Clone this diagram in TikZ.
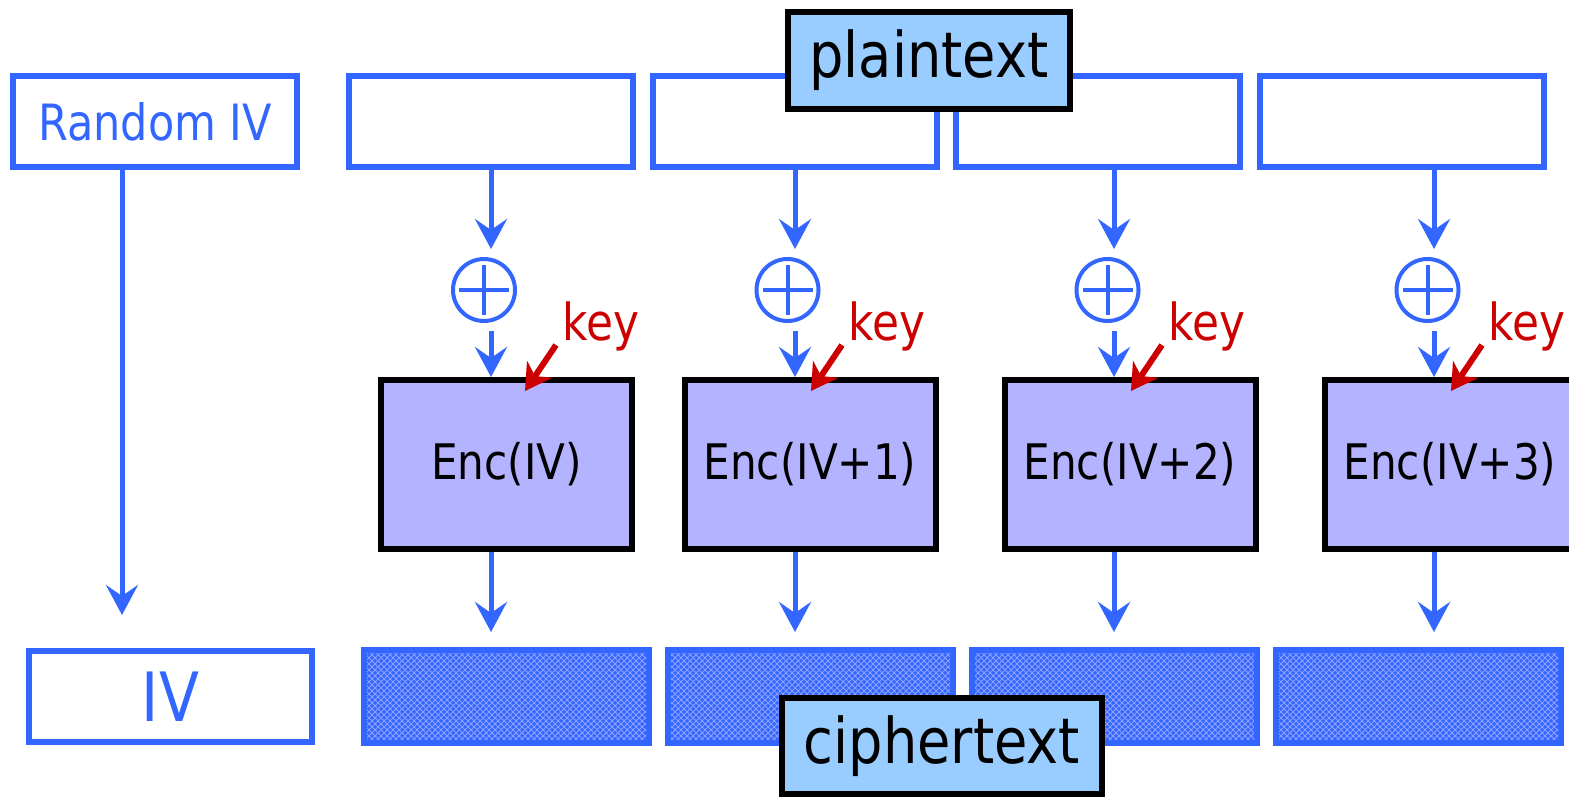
\documentclass[tikz,border=0pt]{standalone}
\usepackage{fontspec}
\setmainfont{DejaVu Sans}[FakeStretch=0.86]
\usetikzlibrary{arrows.meta,patterns}
\definecolor{ivblue}{RGB}{51,102,255}
\definecolor{keyred}{RGB}{204,0,0}
\definecolor{labelfill}{RGB}{153,204,255}
\definecolor{encfill}{RGB}{179,179,255}
\definecolor{dotblue}{RGB}{140,160,255}
\begin{document}
\begin{tikzpicture}[x=0.5pt,y=-0.5pt,
        ptbox/.style={draw=ivblue,line width=3pt,fill=white,minimum width=142pt,minimum height=45.5pt},
        ctbox/.style={draw=ivblue,line width=3pt,preaction={fill=ivblue},pattern=crosshatch,
            pattern color=dotblue,minimum width=142.5pt,minimum height=46.5pt},
        encbox/.style={draw=black,line width=3pt,fill=encfill,minimum width=125.5pt,minimum height=84.5pt,
            font=\fontsize{24.5}{28}\selectfont},
        labelbox/.style={draw=black,line width=3pt,fill=labelfill,inner sep=2pt,
            font=\fontsize{31.5}{36}\selectfont},
        xor/.style={circle,draw=ivblue,line width=2pt,minimum size=31pt,inner sep=0pt,
            path picture={\draw[ivblue,line width=2pt]
                ([xshift=-12.5pt]path picture bounding box.center) -- ([xshift=12.5pt]path picture bounding box.center)
                ([yshift=-12.5pt]path picture bounding box.center) -- ([yshift=12.5pt]path picture bounding box.center);}},
        flow/.style={draw=ivblue,line width=2.5pt,-{Stealth[length=15pt,width=16pt,inset=5.5pt]}},
        keyarr/.style={draw=keyred,line width=3pt,-{Stealth[length=13pt,width=15pt,inset=4pt]}},
        keytext/.style={text=keyred,anchor=base west,inner sep=0pt,font=\fontsize{25.5}{30}\selectfont}]
    \useasboundingbox (0,0) rectangle (1569,799);

    % columns
    \coordinate (ivcol) at (122,0);
    \coordinate (col1) at (491,0);
    \coordinate (col2) at (795,0);
    \coordinate (col3) at (1114,0);
    \coordinate (col4) at (1434,0);

    % top row
    \node[ptbox,text=ivblue,font=\fontsize{25}{30}\selectfont] (rnd) at (155,121.5) {Random IV};
    \node[ptbox] (p1) at (490.5,121.5) {};
    \node[ptbox] (p2) at (794.5,121.5) {};
    \node[ptbox] (p3) at (1097.5,121.5) {};
    \node[ptbox] (p4) at (1401.5,121.5) {};
    \node[labelbox,minimum width=141pt,minimum height=48.5pt] (plain) at (929,60.5) {plaintext};

    % xor
    \node[xor] (x1) at (484,290) {};
    \node[xor] (x2) at (787.5,290) {};
    \node[xor] (x3) at (1107.5,290) {};
    \node[xor] (x4) at (1427.5,290) {};

    % block cipher
    \node[encbox] (e1) at (506.5,464.5) {Enc(IV)};
    \node[encbox] (e2) at (810,464.5) {Enc(IV+1)};
    \node[encbox] (e3) at (1130,464.5) {Enc(IV+2)};
    \node[encbox] (e4) at (1450,464.5) {Enc(IV+3)};

    % bottom row
    \node[ptbox,text=ivblue,font=\fontsize{34}{40}\selectfont,minimum width=141.5pt] (iv) at (170.5,696.5) {IV};
    \node[ctbox] (ct1) at (506.5,696.5) {};
    \node[ctbox] (ct2) at (810.5,696.5) {};
    \node[ctbox] (ct3) at (1114.5,696.5) {};
    \node[ctbox] (ct4) at (1418,696.5) {};
    \node[labelbox,minimum width=160pt,minimum height=48pt] (cipher) at (942,746) {ciphertext};

    % arrows
    \draw[flow,shorten >=16.5pt] (rnd.south -| ivcol) -- (iv.north -| ivcol);
    \draw[flow,shorten >=4pt] (p1.south -| col1) -- (x1.north -| col1);
    \draw[flow,shorten >=4pt] (p2.south -| col2) -- (x2.north -| col2);
    \draw[flow,shorten >=4pt] (p3.south -| col3) -- (x3.north -| col3);
    \draw[flow,shorten >=4pt] (p4.south -| col4) -- (x4.north -| col4);
    \draw[flow,shorten <=4pt] (x1.south -| col1) -- (e1.north -| col1);
    \draw[flow,shorten <=4pt] (x2.south -| col2) -- (e2.north -| col2);
    \draw[flow,shorten <=4pt] (x3.south -| col3) -- (e3.north -| col3);
    \draw[flow,shorten <=4pt] (x4.south -| col4) -- (e4.north -| col4);
    \draw[flow,shorten >=7.5pt] (e1.south -| col1) -- (ct1.north -| col1);
    \draw[flow,shorten >=7.5pt] (e2.south -| col2) -- (ct2.north -| col2);
    \draw[flow,shorten >=7.5pt] (e3.south -| col3) -- (ct3.north -| col3);
    \draw[flow,shorten >=7.5pt] (e4.south -| col4) -- (ct4.north -| col4);

    % keys
    \node[keytext] (k1) at (562,340) {key};
    \node[keytext] (k2) at (848,340) {key};
    \node[keytext] (k3) at (1168,340) {key};
    \node[keytext] (k4) at (1488,340) {key};
    \draw[keyarr] ([xshift=-3pt,yshift=3pt]k1.south west) -- ++(-15.5pt,-23pt);
    \draw[keyarr] ([xshift=-3pt,yshift=3pt]k2.south west) -- ++(-15.5pt,-23pt);
    \draw[keyarr] ([xshift=-3pt,yshift=3pt]k3.south west) -- ++(-15.5pt,-23pt);
    \draw[keyarr] ([xshift=-3pt,yshift=3pt]k4.south west) -- ++(-15.5pt,-23pt);
\end{tikzpicture}
\end{document}
